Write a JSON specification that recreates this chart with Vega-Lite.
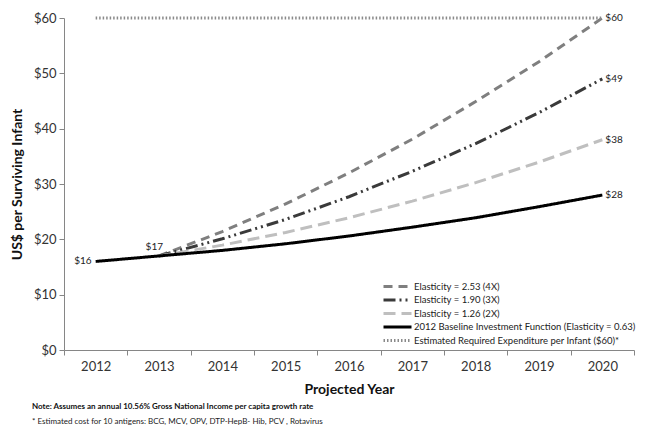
{
  "$schema": "https://vega.github.io/schema/vega-lite/v6.json",
  "width": 570,
  "height": 332,
  "autosize": {"type": "none"},
  "padding": {"left": 64, "top": 18, "right": 12, "bottom": 90},
  "background": "white",
  "config": {
    "view": {"stroke": null},
    "font": "Lato",
    "axis": {"domainColor": "#868686", "tickColor": "#868686", "labelFont": "Lato", "labelFontSize": 13, "labelColor": "#333333", "titleFont": "Lato", "titleFontSize": 14, "titleFontWeight": "bold", "titleColor": "#111111", "grid": false}
  },
  "title": {
    "text": "Note: Assumes an annual 10.56% Gross National Income per capita growth rate",
    "subtitle": "* Estimated cost for 10 antigens: BCG, MCV, OPV, DTP-HepB- Hib, PCV , Rotavirus",
    "orient": "bottom",
    "anchor": "start",
    "frame": "group",
    "dx": -32,
    "offset": 7,
    "font": "Lato",
    "fontSize": 8,
    "fontWeight": "bold",
    "color": "#111111",
    "subtitleFont": "Lato",
    "subtitleFontSize": 8,
    "subtitleColor": "#222222",
    "subtitlePadding": 7
  },
  "data": {
    "values": [
      {"series": "Elasticity = 2.53 (4X)", "year": 2013, "value": 17},
      {"series": "Elasticity = 2.53 (4X)", "year": 2014, "value": 21.4},
      {"series": "Elasticity = 2.53 (4X)", "year": 2015, "value": 26.4},
      {"series": "Elasticity = 2.53 (4X)", "year": 2016, "value": 32.0},
      {"series": "Elasticity = 2.53 (4X)", "year": 2017, "value": 38.1},
      {"series": "Elasticity = 2.53 (4X)", "year": 2018, "value": 44.9},
      {"series": "Elasticity = 2.53 (4X)", "year": 2019, "value": 52.1},
      {"series": "Elasticity = 2.53 (4X)", "year": 2020, "value": 60, "label": "$60"},
      {"series": "Elasticity = 1.90 (3X)", "year": 2013, "value": 17},
      {"series": "Elasticity = 1.90 (3X)", "year": 2014, "value": 20.1},
      {"series": "Elasticity = 1.90 (3X)", "year": 2015, "value": 23.6},
      {"series": "Elasticity = 1.90 (3X)", "year": 2016, "value": 27.7},
      {"series": "Elasticity = 1.90 (3X)", "year": 2017, "value": 32.3},
      {"series": "Elasticity = 1.90 (3X)", "year": 2018, "value": 37.3},
      {"series": "Elasticity = 1.90 (3X)", "year": 2019, "value": 42.9},
      {"series": "Elasticity = 1.90 (3X)", "year": 2020, "value": 49, "label": "$49"},
      {"series": "Elasticity = 1.26 (2X)", "year": 2013, "value": 17},
      {"series": "Elasticity = 1.26 (2X)", "year": 2014, "value": 18.95},
      {"series": "Elasticity = 1.26 (2X)", "year": 2015, "value": 21.25},
      {"series": "Elasticity = 1.26 (2X)", "year": 2016, "value": 23.9},
      {"series": "Elasticity = 1.26 (2X)", "year": 2017, "value": 26.9},
      {"series": "Elasticity = 1.26 (2X)", "year": 2018, "value": 30.25},
      {"series": "Elasticity = 1.26 (2X)", "year": 2019, "value": 33.95},
      {"series": "Elasticity = 1.26 (2X)", "year": 2020, "value": 38, "label": "$38"},
      {"series": "2012 Baseline Investment Function (Elasticity = 0.63)", "year": 2012, "value": 16, "label": "$16"},
      {"series": "2012 Baseline Investment Function (Elasticity = 0.63)", "year": 2013, "value": 17, "label": "$17"},
      {"series": "2012 Baseline Investment Function (Elasticity = 0.63)", "year": 2014, "value": 18.0},
      {"series": "2012 Baseline Investment Function (Elasticity = 0.63)", "year": 2015, "value": 19.2},
      {"series": "2012 Baseline Investment Function (Elasticity = 0.63)", "year": 2016, "value": 20.6},
      {"series": "2012 Baseline Investment Function (Elasticity = 0.63)", "year": 2017, "value": 22.2},
      {"series": "2012 Baseline Investment Function (Elasticity = 0.63)", "year": 2018, "value": 23.9},
      {"series": "2012 Baseline Investment Function (Elasticity = 0.63)", "year": 2019, "value": 25.9},
      {"series": "2012 Baseline Investment Function (Elasticity = 0.63)", "year": 2020, "value": 28, "label": "$28"},
      {"series": "Estimated Required Expenditure per Infant ($60)*", "year": 2012, "value": 60},
      {"series": "Estimated Required Expenditure per Infant ($60)*", "year": 2020, "value": 60}
    ]
  },
  "encoding": {
    "x": {
      "field": "year", "type": "ordinal", "bandPosition": 0.5,
      "scale": {"type": "band", "paddingInner": 0, "paddingOuter": 0},
      "axis": {"title": "Projected Year", "labelAngle": 0, "tickBand": "extent", "tickSize": 5, "labelPadding": 5, "titlePadding": 9}
    },
    "y": {
      "field": "value", "type": "quantitative",
      "scale": {"domain": [0, 60], "nice": false},
      "axis": {"title": "US$ per Surviving Infant", "values": [0, 10, 20, 30, 40, 50, 60], "labelExpr": "'$' + datum.value", "tickSize": 5, "labelPadding": 3, "titlePadding": 9}
    }
  },
  "layer": [
    {
      "mark": {"type": "line", "strokeCap": "butt"},
      "encoding": {
        "color": {
          "field": "series", "type": "nominal",
          "scale": {
            "domain": ["Elasticity = 2.53 (4X)", "Elasticity = 1.90 (3X)", "Elasticity = 1.26 (2X)", "2012 Baseline Investment Function (Elasticity = 0.63)", "Estimated Required Expenditure per Infant ($60)*"],
            "range": ["#7f7f7f", "#3a3a3a", "#bfbfbf", "#000000", "#8a8a8a"]
          },
          "legend": {
            "title": null, "orient": "none", "legendX": 318, "legendY": 262,
            "symbolType": "M-1,0H4.6", "symbolSize": 100, "labelFont": "Lato", "labelFontSize": 9.5,
            "labelColor": "#222222", "rowPadding": 0.5, "labelOffset": 19, "labelLimit": 400
          }
        },
        "strokeDash": {
          "field": "series", "type": "nominal",
          "scale": {
            "domain": ["Elasticity = 2.53 (4X)", "Elasticity = 1.90 (3X)", "Elasticity = 1.26 (2X)", "2012 Baseline Investment Function (Elasticity = 0.63)", "Estimated Required Expenditure per Infant ($60)*"],
            "range": [[9, 6], [12, 4, 2, 4, 2, 4], [12, 6], [1, 0], [1.5, 2]]
          }
        },
        "strokeWidth": {
          "field": "series", "type": "nominal",
          "scale": {
            "domain": ["Elasticity = 2.53 (4X)", "Elasticity = 1.90 (3X)", "Elasticity = 1.26 (2X)", "2012 Baseline Investment Function (Elasticity = 0.63)", "Estimated Required Expenditure per Infant ($60)*"],
            "range": [3, 3, 3, 2.5, 1]
          }
        }
      }
    },
    {
      "transform": [{"filter": "datum.year == 2020 && datum.label"}],
      "mark": {"type": "text", "align": "left", "dx": 3, "font": "Lato", "fontSize": 10, "color": "#222222"},
      "encoding": {"text": {"field": "label"}}
    },
    {
      "transform": [{"filter": "datum.year == 2012 && datum.label"}],
      "mark": {"type": "text", "align": "right", "dx": -4, "font": "Lato", "fontSize": 10, "color": "#222222"},
      "encoding": {"text": {"field": "label"}}
    },
    {
      "transform": [{"filter": "datum.year == 2013 && datum.label"}],
      "mark": {"type": "text", "align": "right", "baseline": "bottom", "dx": 4, "dy": -4, "font": "Lato", "fontSize": 10, "color": "#222222"},
      "encoding": {"text": {"field": "label"}}
    }
  ]
}
